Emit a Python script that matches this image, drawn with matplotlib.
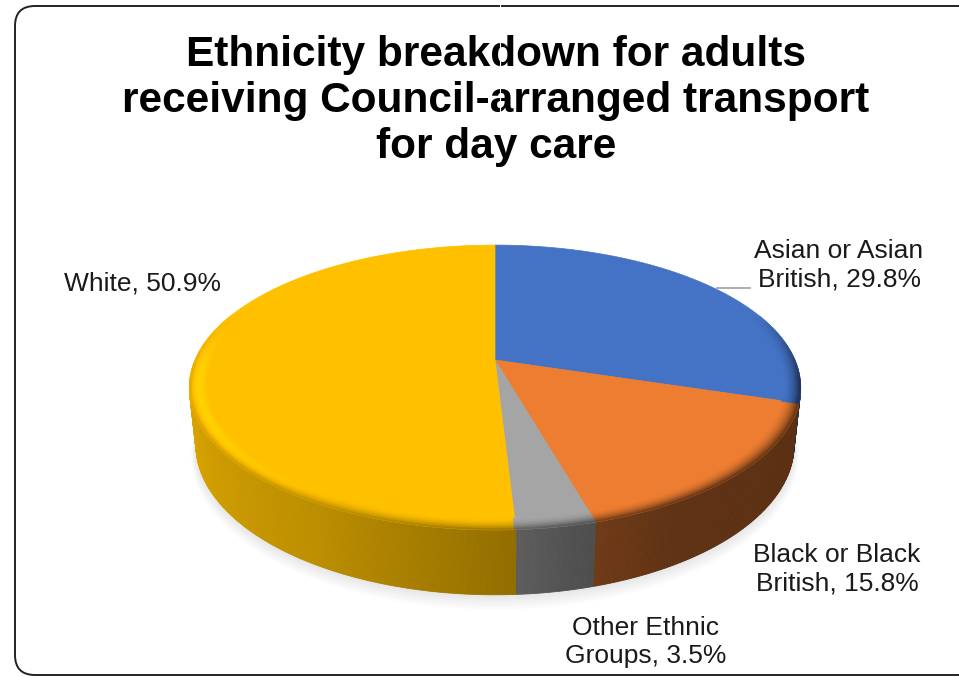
import numpy as np
import matplotlib
matplotlib.use("Agg")
import matplotlib.pyplot as plt
from matplotlib.collections import PolyCollection
from matplotlib.patches import Polygon, FancyBboxPatch
from matplotlib.colors import to_rgb

# ---------------- data ----------------
categories = ["Asian or Asian British", "Black or Black British",
              "Other Ethnic Groups", "White"]
values = [29.8, 15.8, 3.5, 50.9]
colors = ["#4472C4", "#ED7D31", "#A5A5A5", "#FFC000"]
label_lines = [["Asian or Asian", "British, 29.8%"],
               ["Black or Black", "British, 15.8%"],
               ["Other Ethnic", "Groups, 3.5%"],
               ["White, 50.9%"]]
title_lines = ["Ethnicity breakdown for adults",
               "receiving Council-arranged transport",
               "for day care"]

# ---------------- layout / style ----------------
W, Hpx = 959, 677
CX, CY, R = 495, 360, 300
SIN_E = 0.457
COS_E = np.sqrt(1 - SIN_E ** 2)
F = 4.61
DEPTH = 0.215
FONT = "Liberation Sans"

def proj(th, r=1.0, z=0.0):
    X = r * np.cos(th)
    Y = r * np.sin(th)
    yv = Y * SIN_E + z * COS_E
    d = Y * COS_E - z * SIN_E
    s = F / (F + d)
    return CX + R * X * s, CY - R * yv * s

def wall_shade(deg):
    return np.interp(deg, [-166, -120, -88, -78, -60, -14],
                     [0.86, 0.74, 0.58, 0.49, 0.40, 0.38])

fig = plt.figure(figsize=(W / 100, Hpx / 100), dpi=100)
ax = fig.add_axes([0, 0, 1, 1])
ax.set_xlim(0, W)
ax.set_ylim(Hpx, 0)
ax.axis("off")

# border
box = FancyBboxPatch((15, 6), 985 - 15, 675 - 6,
                     boxstyle="round,pad=0,rounding_size=20",
                     fc="white", ec="#222222", lw=1.4, zorder=0)
ax.add_patch(box)

vals = np.array(values, dtype=float)
frac = vals / vals.sum()
cum = np.concatenate([[0], np.cumsum(frac)])
th_start = np.deg2rad(90 - 360 * cum[:-1])
th_end = np.deg2rad(90 - 360 * cum[1:])
rgb = [np.array(to_rgb(c)) for c in colors]

# soft shadow
tt = np.linspace(0, 2 * np.pi, 400)
for k in range(1, 7):
    x, y = proj(tt, 1 + 0.003 * k, -DEPTH - 0.006 * k)
    ax.add_patch(Polygon(np.column_stack([x, y]), closed=True,
                         fc="#808080", ec="none", alpha=0.03, zorder=1))

# side walls
t0 = np.arcsin(-1 / (F * COS_E))
vis_lo, vis_hi = -np.pi - t0, t0
polys, fcols = [], []
for i in range(len(vals)):
    a = max(th_end[i], vis_lo)
    b = min(th_start[i], vis_hi)
    if a >= b:
        continue
    n = max(2, int(np.rad2deg(b - a) * 2))
    ths = np.linspace(a, b, n + 1)
    for t1, t2 in zip(ths[:-1], ths[1:]):
        x1, y1 = proj(t1, 1, 0)
        x2, y2 = proj(t2, 1, 0)
        x3, y3 = proj(t2, 1, -DEPTH)
        x4, y4 = proj(t1, 1, -DEPTH)
        polys.append([(x1, y1), (x2, y2), (x3, y3), (x4, y4)])
        sh = wall_shade(np.rad2deg((t1 + t2) / 2))
        fcols.append(np.clip(rgb[i] * sh, 0, 1))
pc = PolyCollection(polys, facecolors=fcols, edgecolors=fcols, linewidths=0.6, zorder=2)
ax.add_collection(pc)

# top face
for i in range(len(vals)):
    ths = np.linspace(th_start[i], th_end[i], 300)
    x, y = proj(ths, 1, 0)
    pts = np.vstack([[CX, CY], np.column_stack([x, y])])
    ax.add_patch(Polygon(pts, closed=True, fc=colors[i], ec=colors[i], lw=0.5, zorder=3))

# bevel on the rim of the top face
def wedge_index(deg):
    f = ((90 - deg) % 360) / 360
    return min(np.searchsorted(cum, f, side="right") - 1, len(vals) - 1)

bpolys, bcols = [], []
step = 0.5
rs = np.linspace(0.945, 1.0, 9)
for deg in np.arange(-200, 20, step):
    d1, d2 = deg, deg + step
    dm = (d1 + d2) / 2
    idx = wedge_index(dm)
    w = np.interp(dm, [-200, -172, -8, 20], [0, 1, 1, 0])
    ws = wall_shade(dm)
    hl = np.interp(dm, [-200, -178, -150, -115], [0.0, 0.13, 0.13, 0.0])
    for r1, r2 in zip(rs[:-1], rs[1:]):
        t = ((r1 + r2) / 2 - rs[0]) / (rs[-1] - rs[0])
        fac = 1 + w * ((ws - 1) * t ** 2 + hl * np.sin(np.pi * t))
        a1, a2 = np.deg2rad(d1), np.deg2rad(d2)
        p1 = proj(a1, r1); p2 = proj(a2, r1); p3 = proj(a2, r2); p4 = proj(a1, r2)
        bpolys.append([p1, p2, p3, p4])
        bcols.append(np.clip(rgb[idx] * fac, 0, 1))
bc = PolyCollection(bpolys, facecolors=bcols, edgecolors=bcols, linewidths=0.4, zorder=4)
ax.add_collection(bc)

# title
title_baselines = [66, 112, 158]
for line, yb in zip(title_lines, title_baselines):
    ax.text(496, yb, line, ha="center", va="baseline", fontsize=30.5,
            fontweight="bold", family=FONT, color="black", zorder=10)

# artifact gap
ax.plot([500, 500], [0, 125], color="white", lw=0.8, zorder=11)

# data labels
label_pos = [(839, [258, 287]), (837, [562, 591]), (646, [635, 663]), (142, [290])]
for lines, (xc, ybs) in zip(label_lines, label_pos):
    for line, yb in zip(lines, ybs):
        ax.text(xc, yb, line, ha="center", va="baseline", fontsize=19,
                family=FONT, color="#1a1a1a", zorder=10)

# leader line for Asian label
ax.plot([717, 750], [288, 288], color="#A6A6A6", lw=1.3, zorder=9)

fig.savefig("out.png", dpi=100)
